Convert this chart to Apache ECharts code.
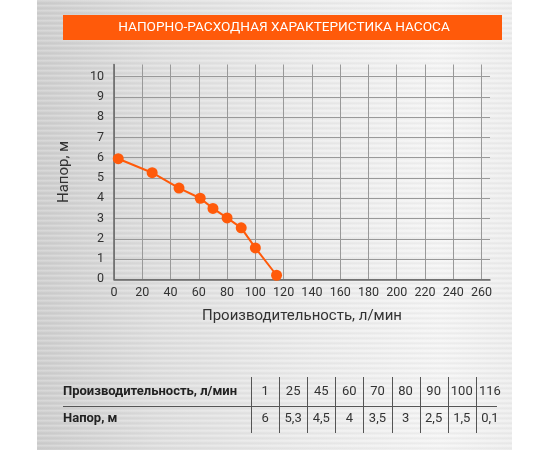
<!DOCTYPE html>
<html>
<head>
<meta charset="utf-8">
<script src="https://cdn.jsdelivr.net/npm/echarts@6/dist/echarts.min.js"></script>
<style>
  html, body { margin: 0; padding: 0; background: #fff; }
  #wrap { position: relative; width: 550px; height: 450px; }
  #metal {
    position: absolute; left: 37px; top: 0; width: 475px; height: 450px;
    background:
      repeating-linear-gradient(180deg, rgba(255,255,255,0.22) 0px, rgba(255,255,255,0) 2px, rgba(0,0,0,0.045) 3px, rgba(255,255,255,0) 5px),
      linear-gradient(90deg, #d0d0d0 0%, #e0e0e0 25%, #ececec 55%, #f5f5f5 85%, #efefef 100%);
  }
  #main { position: absolute; left: 0; top: 0; width: 550px; height: 450px; }
</style>
</head>
<body>
<div id="wrap">
  <div id="metal"></div>
  <div id="main"></div>
</div>
<script>
var chart = echarts.init(document.getElementById("main"));

var title = 'НАПОРНО-РАСХОДНАЯ ХАРАКТЕРИСТИКА НАСОСА';
var xName = 'Производительность, л/мин';
var yName = 'Напор, м';

// points as plotted on the curve
var curveFlow = [3, 27, 46, 61, 70, 80, 90, 100, 115];
var curveHead = [5.95, 5.26, 4.5, 4.0, 3.5, 3.03, 2.54, 1.55, 0.2];

// table below the chart
var tableFlow = ['1', '25', '45', '60', '70', '80', '90', '100', '116'];
var tableHead = ['6', '5,3', '4,5', '4', '3,5', '3', '2,5', '1,5', '0,1'];
var rowNames = ['Производительность, л/мин', 'Напор, м'];

var orange = '#ff5a0a';
var font = 'Roboto';

var pts = [];
for (var i = 0; i < curveFlow.length; i++) {
  pts.push([curveFlow[i], curveHead[i]]);
}

// banner + table built from the arrays
var graphics = [
  {
    type: 'rect', shape: { x: 63, y: 15, width: 439, height: 25 },
    style: { fill: orange }
  },
  {
    type: 'text', x: 284, y: 28,
    style: { text: title, fill: '#fff', font: '13.6px ' + font, align: 'center', verticalAlign: 'middle' }
  },
  {
    type: 'line', shape: { x1: 63, y1: 406.5, x2: 497, y2: 406.5 },
    style: { stroke: '#555', lineWidth: 1 }
  }
];
var rowY = [392, 419];
for (var r = 0; r < 2; r++) {
  graphics.push({
    type: 'text', x: 63, y: rowY[r],
    style: { text: rowNames[r], fill: '#222', font: 'bold 13px ' + font, verticalAlign: 'middle' }
  });
}
var colW = 28.1, col0 = 251;
for (var c = 0; c < tableFlow.length; c++) {
  var cx = col0 + c * colW;
  graphics.push({
    type: 'line', shape: { x1: Math.round(cx) + 0.5, y1: 377, x2: Math.round(cx) + 0.5, y2: 433 },
    style: { stroke: '#555', lineWidth: 1 }
  });
  graphics.push({
    type: 'text', x: cx + colW / 2, y: rowY[0],
    style: { text: tableFlow[c], fill: '#333', font: '13px ' + font, align: 'center', verticalAlign: 'middle' }
  });
  graphics.push({
    type: 'text', x: cx + colW / 2, y: rowY[1],
    style: { text: tableHead[c], fill: '#333', font: '13px ' + font, align: 'center', verticalAlign: 'middle' }
  });
}

var options = {
  backgroundColor: 'transparent',
  animation: false,
  textStyle: { fontFamily: font },
  grid: { left: 114, right: 60, top: 64.5, bottom: 170.7, containLabel: false },
  xAxis: {
    type: 'value', min: 0, max: 266, interval: 20,
    name: xName, nameLocation: 'middle', nameGap: 29,
    nameTextStyle: { fontSize: 15, color: '#333', fontFamily: font },
    axisLine: { show: true, lineStyle: { color: '#666', width: 1.5 } },
    axisTick: { show: false },
    axisLabel: { fontSize: 12.5, color: '#333', margin: 7, showMaxLabel: false },
    splitLine: { show: true, showMaxLine: false, lineStyle: { color: '#999', width: 1 } }
  },
  yAxis: {
    type: 'value', min: 0, max: 10.6, interval: 1,
    name: yName, nameLocation: 'middle', nameGap: 42,
    nameTextStyle: { fontSize: 15, color: '#333', fontFamily: font },
    axisLine: { show: true, lineStyle: { color: '#666', width: 1.5 } },
    axisTick: { show: false },
    axisLabel: { fontSize: 12.5, color: '#333', margin: 10, showMaxLabel: false },
    splitLine: { show: true, showMaxLine: false, lineStyle: { color: '#999', width: 1 } }
  },
  graphic: graphics,
  series: [{
    type: 'line',
    data: pts,
    symbol: 'circle',
    symbolSize: 11,
    lineStyle: { color: orange, width: 2 },
    itemStyle: { color: orange },
    z: 5
  }]
};
chart.setOption(options);
</script>
</body>
</html>
